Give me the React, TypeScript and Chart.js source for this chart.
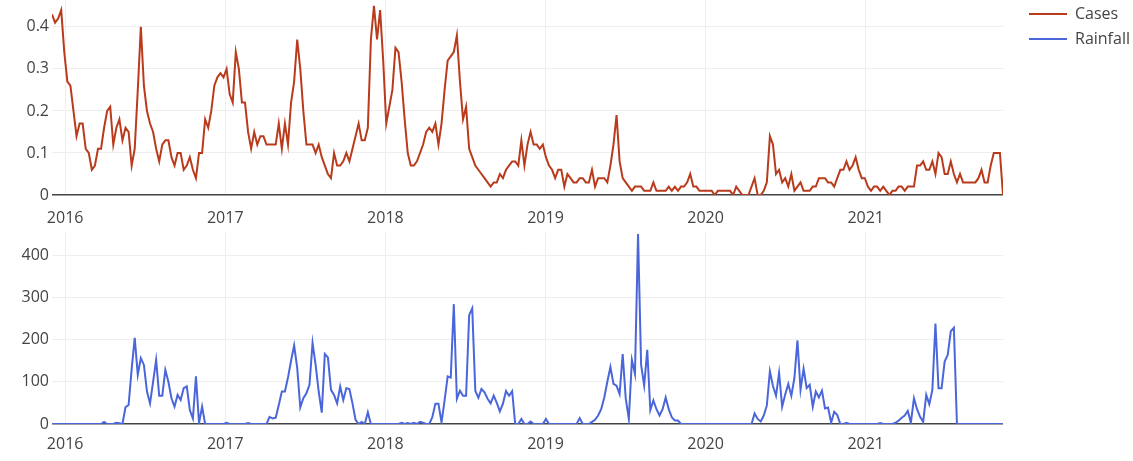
import React, { useEffect, useRef } from "react";
import { Chart, registerables } from "chart.js";

Chart.register(...registerables);

// Weekly series, one value per week starting on the first week below.
const firstWeek = "2015-12-02";

const seriesNames = ["Cases", "Rainfall"];
const seriesColors = ["#b93b1c", "#4a66da"];

const yearTicks = [2016, 2017, 2018, 2019, 2020, 2021];
const casesTicks = [0, 0.1, 0.2, 0.3, 0.4];
const rainfallTicks = [0, 100, 200, 300, 400];

const cases = [
  0.43, 0.41, 0.42, 0.44, 0.34, 0.27, 0.26, 0.2, 0.14, 0.17,
  0.17, 0.11, 0.1, 0.06, 0.07, 0.11, 0.11, 0.16, 0.2, 0.21,
  0.12, 0.16, 0.18, 0.13, 0.16, 0.15, 0.07, 0.11, 0.25, 0.4,
  0.26, 0.2, 0.17, 0.15, 0.11, 0.08, 0.12, 0.13, 0.13, 0.09,
  0.07, 0.1, 0.1, 0.06, 0.07, 0.09, 0.06, 0.04, 0.1, 0.1,
  0.18, 0.16, 0.2, 0.26, 0.28, 0.29, 0.28, 0.3, 0.24, 0.22,
  0.34, 0.3, 0.22, 0.22, 0.15, 0.11, 0.15, 0.12, 0.14, 0.14,
  0.12, 0.12, 0.12, 0.12, 0.17, 0.11, 0.17, 0.12, 0.22, 0.27,
  0.37, 0.3, 0.2, 0.12, 0.12, 0.12, 0.1, 0.12, 0.09, 0.07,
  0.05, 0.04, 0.1, 0.07, 0.07, 0.08, 0.1, 0.08, 0.11, 0.14,
  0.17, 0.13, 0.13, 0.16, 0.37, 0.45, 0.37, 0.44, 0.32, 0.17,
  0.21, 0.25, 0.35, 0.34, 0.27, 0.18, 0.1, 0.07, 0.07, 0.08,
  0.1, 0.12, 0.15, 0.16, 0.15, 0.17, 0.12, 0.17, 0.25, 0.32,
  0.33, 0.34, 0.38, 0.27, 0.18, 0.21, 0.11, 0.09, 0.07, 0.06,
  0.05, 0.04, 0.03, 0.02, 0.03, 0.03, 0.05, 0.04, 0.06, 0.07,
  0.08, 0.08, 0.07, 0.13, 0.07, 0.12, 0.15, 0.12, 0.12, 0.11,
  0.12, 0.09, 0.07, 0.06, 0.04, 0.06, 0.06, 0.02, 0.05, 0.04,
  0.03, 0.03, 0.04, 0.04, 0.03, 0.03, 0.06, 0.02, 0.04, 0.04,
  0.04, 0.03, 0.07, 0.12, 0.19, 0.08, 0.04, 0.03, 0.02, 0.01,
  0.02, 0.02, 0.02, 0.01, 0.01, 0.01, 0.03, 0.01, 0.01, 0.01,
  0.01, 0.02, 0.01, 0.02, 0.01, 0.02, 0.02, 0.03, 0.05, 0.02,
  0.02, 0.01, 0.01, 0.01, 0.01, 0.01, 0.0, 0.01, 0.01, 0.01,
  0.01, 0.01, 0.0, 0.02, 0.01, 0.0, 0.0, 0.0, 0.02, 0.04,
  0.0, 0.0, 0.01, 0.03, 0.14, 0.12, 0.05, 0.06, 0.03, 0.04,
  0.02, 0.05, 0.01, 0.02, 0.03, 0.01, 0.01, 0.01, 0.02, 0.02,
  0.04, 0.04, 0.04, 0.03, 0.03, 0.02, 0.04, 0.06, 0.06, 0.08,
  0.06, 0.07, 0.09, 0.06, 0.04, 0.04, 0.02, 0.01, 0.02, 0.02,
  0.01, 0.02, 0.01, 0.0, 0.01, 0.01, 0.02, 0.02, 0.01, 0.02,
  0.02, 0.02, 0.07, 0.07, 0.08, 0.06, 0.06, 0.08, 0.05, 0.1,
  0.09, 0.05, 0.05, 0.08, 0.05, 0.03, 0.05, 0.03, 0.03, 0.03,
  0.03, 0.03, 0.04, 0.06, 0.03, 0.03, 0.07, 0.1, 0.1, 0.1, 0.0,
];

const rainfall = [
  0, 0, 0, 0, 0, 0, 0, 0, 0, 0,
  0, 0, 0, 0, 0, 0, 0, 5, 0, 0,
  0, 3, 2, 0, 40, 45, 130, 204, 117, 156,
  140, 77, 49, 100, 152, 67, 67, 128, 100, 61,
  41, 69, 57, 85, 89, 33, 13, 113, 2, 41,
  0, 0, 0, 0, 0, 0, 0, 3, 0, 0,
  0, 0, 0, 0, 2, 0, 0, 0, 0, 0,
  0, 17, 13, 15, 45, 77, 77, 110, 150, 186,
  133, 39, 61, 73, 93, 192, 140, 77, 27, 166,
  158, 81, 69, 49, 89, 57, 85, 83, 49, 10,
  0, 5, 0, 28, 0, 0, 0, 0, 0, 0,
  0, 0, 0, 0, 3, 0, 2, 0, 3, 0,
  5, 3, 0, 0, 16, 48, 48, 4, 56, 113,
  110, 284, 60, 79, 67, 67, 258, 274, 79, 62,
  83, 75, 60, 49, 67, 50, 30, 48, 78, 67,
  78, 0, 0, 12, 0, 0, 6, 0, 0, 0,
  0, 12, 0, 0, 0, 0, 0, 0, 0, 0,
  0, 0, 14, 0, 0, 0, 5, 10, 20, 35,
  63, 100, 135, 95, 91, 71, 166, 60, 12, 152,
  119, 450, 140, 91, 176, 33, 56, 35, 20, 35,
  63, 35, 16, 8, 8, 0, 0, 0, 0, 0,
  0, 0, 0, 0, 0, 0, 0, 0, 0, 0,
  0, 0, 0, 0, 0, 0, 0, 0, 0, 25,
  12, 6, 20, 44, 125, 90, 67, 121, 41, 70,
  95, 67, 109, 198, 81, 131, 85, 93, 41, 77,
  63, 79, 37, 39, 3, 29, 21, 0, 0, 3,
  0, 0, 0, 0, 0, 0, 0, 0, 0, 0,
  2, 0, 0, 0, 0, 3, 8, 15, 20, 31,
  3, 61, 35, 17, 5, 69, 47, 81, 238, 85,
  85, 148, 164, 220, 228, 0, 0, 0, 0, 0,
  0, 0, 0, 0, 0, 0, 0, 0, 0, 0, 0,
];

const FONT = '"Open Sans", "Noto Sans", sans-serif';
const TEXT = "#444";
const GRID = "#eeeeee";
const ZERO = "#444";
const DAY = 86400000;

// Decimal year for a timestamp, so the x axis can run in years.
function toYear(ms: number): number {
  const y = new Date(ms).getUTCFullYear();
  const s = Date.UTC(y, 0, 1);
  const e = Date.UTC(y + 1, 0, 1);
  return y + (ms - s) / (e - s);
}

const start = Date.parse(firstWeek + "T00:00:00Z");
const weekX = cases.map((_, i) => toYear(start + i * 7 * DAY));
const xMin = weekX[0];
const xMax = weekX[weekX.length - 1];

const PLOT_LEFT = 52;
const PLOT_RIGHT_GAP = 130;

const seriesKey = {
  id: "seriesKey",
  afterDraw(chart: any) {
    const ctx = chart.ctx;
    ctx.save();
    ctx.font = `16px ${FONT}`;
    ctx.textBaseline = "middle";
    ctx.textAlign = "left";
    seriesNames.forEach((name, i) => {
      const y = 14 + i * 25;
      ctx.strokeStyle = seriesColors[i];
      ctx.lineWidth = 2;
      ctx.beginPath();
      ctx.moveTo(1029, y);
      ctx.lineTo(1067, y);
      ctx.stroke();
      ctx.fillStyle = TEXT;
      ctx.fillText(name, 1075, y);
    });
    ctx.restore();
  },
};

function buildConfig(
  values: number[],
  idx: number,
  yMax: number,
  yTicks: number[],
  xHeight: number,
  xPad: number,
  padTop: number,
  fmt: (v: number) => string,
  withKey: boolean
): any {
  return {
    type: "line",
    data: {
      datasets: [
        {
          label: seriesNames[idx],
          data: values.map((v, i) => ({ x: weekX[i], y: v })),
          borderColor: seriesColors[idx],
          backgroundColor: seriesColors[idx],
          borderWidth: 2,
          pointRadius: 0,
          tension: 0,
          fill: false,
        },
      ],
    },
    plugins: withKey ? [seriesKey] : [],
    options: {
      animation: false,
      responsive: false,
      events: [],
      layout: { padding: { left: 0, right: PLOT_RIGHT_GAP, top: padTop, bottom: 0 } },
      plugins: { legend: { display: false }, tooltip: { enabled: false } },
      scales: {
        x: {
          type: "linear",
          min: xMin,
          max: xMax,
          border: { display: false },
          grid: { color: GRID, lineWidth: 1, drawTicks: false },
          ticks: {
            color: TEXT,
            font: { family: FONT, size: 16 },
            padding: xPad,
            maxRotation: 0,
            callback: (v: number) => String(v),
          },
          afterBuildTicks: (axis: any) => {
            axis.ticks = yearTicks.map((v) => ({ value: v }));
          },
          afterFit: (axis: any) => {
            axis.height = xHeight;
            axis.paddingLeft = 0;
            axis.paddingRight = 0;
          },
        },
        y: {
          type: "linear",
          min: 0,
          max: yMax,
          border: { display: false },
          grid: {
            color: (c: any) => (c.tick && c.tick.value === 0 ? ZERO : GRID),
            lineWidth: (c: any) => (c.tick && c.tick.value === 0 ? 1.5 : 1),
            drawTicks: false,
          },
          ticks: {
            color: TEXT,
            font: { family: FONT, size: 16 },
            padding: 3,
            callback: (v: number) => fmt(v),
          },
          afterBuildTicks: (axis: any) => {
            axis.ticks = yTicks.map((v) => ({ value: v }));
          },
          afterFit: (axis: any) => {
            axis.width = PLOT_LEFT;
            axis.paddingTop = 0;
            axis.paddingBottom = 0;
          },
        },
      },
    },
  };
}

export default function App() {
  const topRef = useRef<HTMLCanvasElement | null>(null);
  const bottomRef = useRef<HTMLCanvasElement | null>(null);

  useEffect(() => {
    const top = new Chart(
      topRef.current as HTMLCanvasElement,
      buildConfig(cases, 0, 0.464, casesTicks, 35, 14, 0, (v) => String(Math.round(v * 10) / 10), true)
    );
    const bottom = new Chart(
      bottomRef.current as HTMLCanvasElement,
      buildConfig(rainfall, 1, 455, rainfallTicks, 37, 11, 2, (v) => String(v), false)
    );
    return () => {
      top.destroy();
      bottom.destroy();
    };
  }, []);

  return (
    <div
      style={{
        position: "fixed",
        left: 0,
        top: 0,
        width: 1133,
        height: 461,
        background: "#fff",
        overflow: "hidden",
      }}
    >
      <canvas
        ref={topRef}
        width={1133}
        height={230}
        style={{ position: "absolute", left: 0, top: 0, width: 1133, height: 230 }}
      />
      <canvas
        ref={bottomRef}
        width={1133}
        height={231}
        style={{ position: "absolute", left: 0, top: 230, width: 1133, height: 231 }}
      />
    </div>
  );
}
